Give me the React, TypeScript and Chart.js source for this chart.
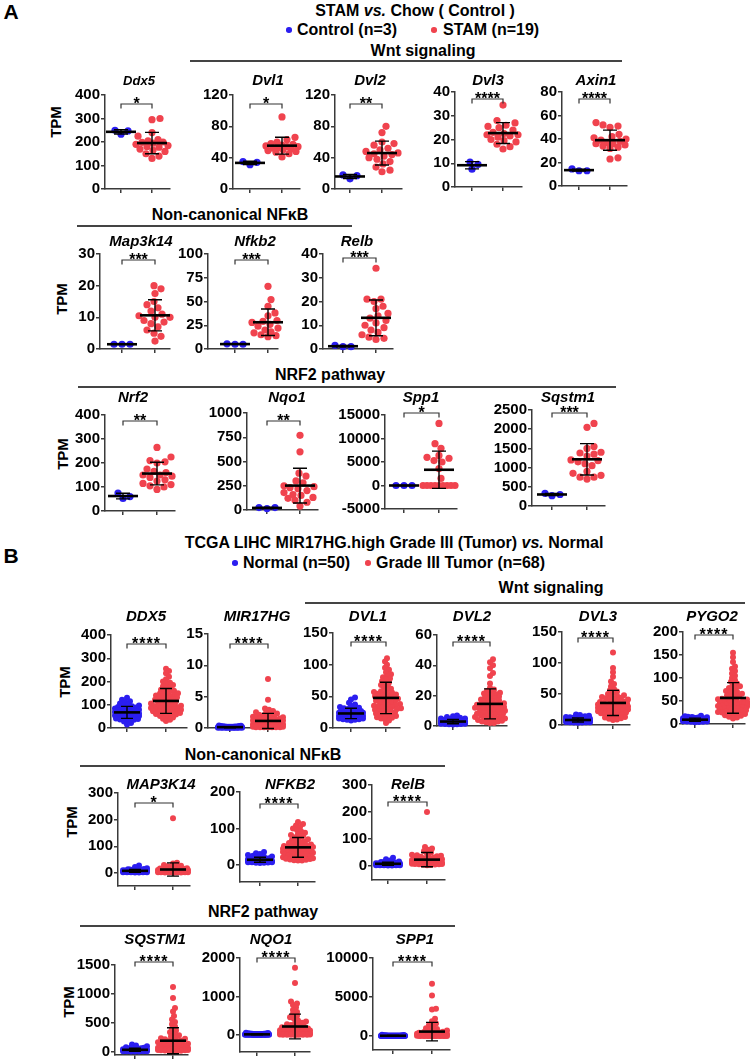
import React, { useEffect, useRef } from 'react';
import { Chart, registerables } from 'chart.js';
Chart.register(...registerables);

const FONT = '"Liberation Sans", Arial, Helvetica, sans-serif';
const BLUE = '#2b1ef0';
const RED = '#f0434e';
const AXIS = '#3a3a3a';

// ---------------- Panel A data (STAM vs Chow) ----------------
const ddx5Ctrl = [250, 233, 247];
const ddx5Stam = [300, 295, 240, 225, 210, 205, 200, 198, 195, 190, 185, 180, 178, 170, 165, 160, 150, 140, 130];
const dvl1Ctrl = [31, 34, 35];
const dvl1Stam = [92, 66, 63, 60, 58, 57, 56, 55, 54, 54, 53, 52, 51, 50, 49, 48, 47, 45, 41];
const dvl2Ctrl = [18, 17, 13];
const dvl2Stam = [80, 72, 60, 58, 56, 52, 50, 48, 46, 45, 44, 42, 40, 38, 35, 32, 28, 24, 22];
const dvl3Ctrl = [10.5, 9.5, 7.5];
const dvl3Stam = [34.5, 28, 27, 26, 25.5, 25, 24, 23, 22.5, 22, 22, 21.5, 21, 20, 19.5, 19, 18, 17, 16];
const axin1Ctrl = [13, 14.5, 13];
const axin1Stam = [54, 52, 51, 50, 44, 42, 41, 40, 39, 38, 37, 36, 36, 35, 34, 33, 32, 24, 23];
const map3k14Ctrl = [1.5, 1.5, 1.5];
const map3k14Stam = [20, 19, 17.5, 15, 14, 13, 12, 11, 10.5, 10, 10, 9, 8.5, 8, 7, 6, 5, 4, 2.5];
const nfkb2Ctrl = [5, 5, 5.5];
const nfkb2Stam = [66, 52, 45, 38, 35, 30, 29, 28, 27, 26, 24, 22, 20, 18, 17, 16, 15, 14, 13];
const relbCtrl = [1, 1.5, 1];
const relbStam = [34, 21, 21, 20, 18, 17, 15, 14, 13, 12, 11, 10, 9, 8, 7, 6, 5, 4.5, 4];
const nrf2Ctrl = [75, 60, 52];
const nrf2Stam = [265, 225, 210, 205, 200, 175, 165, 160, 150, 150, 145, 140, 130, 125, 115, 110, 105, 100, 90];
const nqo1Ctrl = [15, 25, 25];
const nqo1Stam = [770, 600, 380, 350, 300, 280, 250, 240, 230, 220, 200, 180, 160, 150, 130, 120, 100, 80, 40];
const spp1Ctrl = [0, 0, 0];
const spp1Stam = [13200, 8900, 7900, 6400, 6000, 5800, 5300, 5000, 3600, 1500, 0, 0, 0, 0, 0, 0, 0, 0, 0];
const sqstm1Ctrl = [270, 330, 300];
const sqstm1Stam = [2150, 2050, 1550, 1500, 1400, 1380, 1350, 1300, 1200, 1180, 1150, 1100, 1050, 900, 850, 800, 750, 750, 700];

// ---------------- Panel B data (TCGA LIHC) ----------------
const DDX5N = [130, 122, 115, 110, 105, 100, 97, 94, 92, 90, 88, 86, 84, 82, 80, 78, 76, 75, 73, 72, 70, 69, 68, 66, 65, 64, 63, 62, 60, 59, 58, 57, 56, 55, 54, 52, 51, 50, 48, 47, 45, 43, 41, 39, 37, 35, 32, 28, 22, 15];
const DDX5T = [255, 245, 235, 220, 210, 200, 195, 190, 185, 180, 175, 170, 165, 160, 158, 155, 150, 148, 145, 142, 140, 138, 135, 132, 130, 128, 125, 122, 120, 118, 115, 112, 110, 108, 105, 102, 100, 98, 96, 95, 93, 92, 90, 88, 86, 85, 83, 82, 80, 78, 76, 75, 73, 72, 70, 68, 66, 64, 62, 60, 58, 55, 52, 50, 45, 40, 35, 30];
const MIR17HGN = [0.4, 0.35, 0.3, 0.3, 0.28, 0.25, 0.25, 0.22, 0.2, 0.2, 0.2, 0.18, 0.18, 0.17, 0.16, 0.15, 0.15, 0.15, 0.14, 0.14, 0.13, 0.13, 0.12, 0.12, 0.12, 0.11, 0.11, 0.1, 0.1, 0.1, 0.1, 0.09, 0.09, 0.09, 0.08, 0.08, 0.08, 0.07, 0.07, 0.07, 0.06, 0.06, 0.06, 0.05, 0.05, 0.05, 0.04, 0.04, 0.03, 0.02];
const MIR17HGT = [7.8, 4.5, 3.1, 2.9, 2.7, 2.5, 2.4, 2.3, 2.2, 2.1, 2.0, 1.9, 1.8, 1.8, 1.7, 1.6, 1.6, 1.5, 1.5, 1.4, 1.4, 1.3, 1.3, 1.2, 1.2, 1.1, 1.1, 1.0, 1.0, 1.0, 0.9, 0.9, 0.9, 0.8, 0.8, 0.8, 0.7, 0.7, 0.7, 0.6, 0.6, 0.6, 0.5, 0.5, 0.5, 0.5, 0.4, 0.4, 0.4, 0.4, 0.3, 0.3, 0.3, 0.3, 0.3, 0.2, 0.2, 0.2, 0.2, 0.2, 0.2, 0.1, 0.1, 0.1, 0.1, 0.1, 0.1, 0.1];
const DVL1N = [48, 45, 40, 37, 35, 33, 32, 31, 30, 29, 28, 27, 27, 26, 26, 25, 25, 24, 24, 23, 23, 22, 22, 22, 21, 21, 21, 20, 20, 20, 19, 19, 19, 18, 18, 18, 17, 17, 17, 16, 16, 16, 15, 15, 15, 14, 14, 13, 13, 12];
const DVL1T = [110, 105, 100, 95, 92, 88, 85, 82, 80, 78, 76, 74, 72, 70, 68, 66, 64, 62, 60, 58, 57, 56, 55, 54, 53, 52, 51, 50, 49, 48, 47, 46, 45, 44, 43, 42, 41, 40, 39, 38, 37, 36, 35, 35, 34, 33, 32, 31, 30, 30, 29, 28, 27, 26, 25, 24, 23, 22, 21, 20, 19, 18, 17, 16, 15, 14, 12, 8];
const DVL2N = [7, 6.5, 6, 5.5, 5, 5, 4.5, 4.5, 4, 4, 4, 3.8, 3.6, 3.5, 3.4, 3.3, 3.2, 3.1, 3, 3, 2.9, 2.8, 2.8, 2.7, 2.6, 2.6, 2.5, 2.5, 2.4, 2.4, 2.3, 2.3, 2.2, 2.2, 2.1, 2, 2, 1.9, 1.9, 1.8, 1.8, 1.7, 1.6, 1.5, 1.5, 1.4, 1.3, 1.2, 1.1, 1];
const DVL2T = [44, 42, 40, 38, 35, 33, 28, 25, 24, 23, 22.5, 22, 21.5, 21, 20.5, 20, 19.5, 19, 18.5, 18, 17.5, 17, 16.5, 16, 15.5, 15, 15, 14.5, 14, 14, 13.5, 13, 13, 12.5, 12, 12, 11.5, 11, 11, 10.5, 10, 10, 9.5, 9, 9, 8.5, 8, 8, 7.5, 7, 7, 6.5, 6, 6, 5.5, 5, 5, 4.5, 4, 4, 3.5, 3, 3, 2.5, 2, 2, 12, 14];
const DVL3N = [17, 16, 15, 14, 13, 12.5, 12, 11.5, 11, 10.5, 10, 10, 9.5, 9.5, 9, 9, 9, 8.5, 8.5, 8.5, 8, 8, 8, 7.5, 7.5, 7.5, 7, 7, 7, 7, 6.5, 6.5, 6.5, 6, 6, 6, 6, 5.5, 5.5, 5.5, 5, 5, 5, 4.8, 4.6, 4.5, 4.4, 4.2, 4, 3.8];
const DVL3T = [117, 92, 85, 78, 70, 66, 62, 58, 56, 54, 52, 50, 48, 47, 46, 45, 44, 43, 42, 41, 40, 39, 38, 37, 36, 35, 35, 34, 34, 33, 33, 32, 32, 31, 31, 30, 30, 29, 29, 28, 28, 27, 27, 26, 26, 25, 25, 24, 24, 23, 22, 22, 21, 20, 20, 19, 18, 17, 16, 15, 14, 13, 12, 11, 10, 9, 8, 36];
const PYGO2N = [18, 17, 16, 15, 14.5, 14, 13.5, 13, 12.5, 12, 12, 11.5, 11.5, 11, 11, 10.5, 10.5, 10, 10, 10, 9.5, 9.5, 9.5, 9, 9, 9, 8.5, 8.5, 8.5, 8, 8, 8, 7.5, 7.5, 7.5, 7, 7, 7, 6.5, 6.5, 6.5, 6, 6, 6, 5.5, 5.5, 5, 5, 4.5, 4];
const PYGO2T = [155, 145, 135, 125, 120, 115, 110, 105, 100, 95, 92, 88, 85, 82, 80, 78, 75, 72, 70, 68, 66, 64, 62, 60, 58, 56, 55, 54, 53, 52, 51, 50, 49, 48, 47, 46, 45, 44, 43, 42, 41, 40, 40, 39, 38, 37, 36, 35, 34, 33, 32, 31, 30, 29, 28, 27, 26, 25, 24, 23, 22, 20, 19, 18, 16, 14, 12, 45];
const MAP3K14N = [28, 22, 18, 15, 14, 13, 12, 11, 11, 10, 10, 10, 9.5, 9, 9, 9, 8.5, 8, 8, 8, 7.5, 7.5, 7, 7, 7, 6.5, 6.5, 6, 6, 6, 5.5, 5.5, 5, 5, 5, 4.5, 4.5, 4, 4, 4, 3.5, 3.5, 3, 3, 3, 2.5, 2.5, 2, 2, 12];
const MAP3K14T = [205, 38, 35, 30, 27, 25, 22, 20, 19, 18, 17, 16, 15, 15, 14, 14, 13, 13, 12, 12, 12, 11, 11, 11, 10, 10, 10, 10, 9, 9, 9, 9, 8, 8, 8, 8, 7.5, 7.5, 7, 7, 7, 6.5, 6.5, 6, 6, 6, 5.5, 5.5, 5, 5, 5, 4.5, 4.5, 4, 4, 4, 3.5, 3.5, 3, 3, 3, 2.5, 2.5, 2, 2, 1.5, 1.5, 1];
const NFKB2N = [35, 32, 30, 27, 25, 23, 22, 21, 20, 19, 18, 17.5, 17, 16.5, 16, 15.5, 15, 15, 14.5, 14, 14, 13.5, 13, 13, 12.5, 12, 12, 11.5, 11.5, 11, 11, 10.5, 10.5, 10, 10, 9.5, 9.5, 9, 9, 8.5, 8.5, 8, 8, 7.5, 7, 7, 6.5, 6, 5.5, 5];
const NFKB2T = [118, 112, 108, 104, 100, 96, 92, 88, 85, 82, 79, 76, 73, 70, 68, 66, 64, 62, 60, 58, 56, 55, 54, 52, 51, 50, 49, 48, 47, 46, 45, 44, 43, 42, 41, 40, 39, 38, 37, 36, 35, 34, 33, 32, 31, 30, 29, 28, 27, 26, 25, 24, 23, 22, 21, 20, 19, 18, 17, 16, 15, 14, 13, 12, 12, 30, 40, 50];
const RELBN = [30, 25, 20, 17, 15, 14, 13, 12, 11, 11, 10, 10, 9.5, 9, 9, 8.5, 8.5, 8, 8, 8, 7.5, 7.5, 7, 7, 7, 6.5, 6.5, 6, 6, 6, 5.5, 5.5, 5, 5, 5, 4.5, 4.5, 4, 4, 4, 3.5, 3.5, 3, 3, 3, 2.5, 2.5, 2, 2, 10];
const RELBT = [200, 70, 65, 60, 55, 50, 46, 42, 40, 38, 36, 34, 32, 31, 30, 29, 28, 27, 26, 25, 24, 23, 22, 22, 21, 21, 20, 20, 19, 19, 18, 18, 17, 17, 16, 16, 15, 15, 15, 14, 14, 14, 13, 13, 13, 12, 12, 12, 11, 11, 11, 10, 10, 10, 9, 9, 9, 8, 8, 8, 7, 7, 6, 6, 5, 5, 4, 3];
const SQSTM1N = [130, 115, 100, 85, 75, 70, 65, 60, 58, 55, 52, 50, 48, 46, 45, 44, 42, 40, 39, 38, 37, 36, 35, 34, 33, 32, 31, 30, 30, 29, 28, 27, 26, 25, 24, 23, 22, 21, 20, 20, 19, 18, 17, 16, 15, 14, 13, 12, 11, 10];
const SQSTM1T = [1120, 930, 760, 700, 620, 560, 520, 480, 440, 400, 370, 340, 310, 290, 270, 250, 240, 230, 220, 210, 200, 190, 180, 170, 160, 150, 145, 140, 135, 130, 125, 120, 115, 110, 105, 100, 95, 92, 90, 88, 85, 82, 80, 78, 75, 72, 70, 68, 65, 62, 60, 58, 55, 52, 50, 48, 45, 42, 40, 38, 35, 32, 30, 28, 25, 22, 20, 15];
const NQO1N = [60, 50, 45, 40, 38, 35, 33, 30, 28, 27, 26, 25, 24, 23, 22, 21, 20, 20, 19, 18, 18, 17, 16, 16, 15, 15, 14, 14, 13, 13, 12, 12, 11, 11, 10, 10, 9, 9, 8, 8, 7, 7, 6, 6, 5, 5, 4, 4, 3, 2];
const NQO1T = [1750, 1350, 870, 820, 780, 720, 650, 600, 550, 500, 460, 420, 380, 350, 320, 300, 280, 260, 240, 220, 200, 190, 180, 170, 160, 150, 140, 130, 125, 120, 115, 110, 105, 100, 95, 90, 85, 80, 75, 70, 65, 60, 55, 50, 48, 45, 42, 40, 38, 35, 32, 30, 28, 26, 24, 22, 20, 18, 16, 14, 12, 10, 9, 8, 7, 6, 5, 4];
const SPP1N = [150, 120, 100, 90, 80, 75, 70, 65, 60, 55, 50, 48, 45, 42, 40, 38, 35, 32, 30, 28, 26, 24, 22, 20, 18, 16, 15, 14, 13, 12, 11, 10, 9, 8, 8, 7, 7, 6, 6, 5, 5, 4, 4, 3, 3, 2, 2, 1, 1, 0.5];
const SPP1T = [6700, 5200, 3500, 3400, 2200, 1900, 1600, 1400, 1200, 1000, 900, 800, 700, 600, 550, 500, 450, 400, 380, 350, 320, 300, 280, 260, 240, 220, 200, 190, 180, 170, 160, 150, 140, 130, 120, 110, 100, 95, 90, 85, 80, 75, 70, 65, 60, 55, 50, 45, 40, 38, 35, 32, 30, 28, 25, 22, 20, 18, 15, 12, 10, 8, 6, 5, 4, 3, 2, 1];

// ---------------- Tick labels ----------------
const t400 = [0, 100, 200, 300, 400];
const t120 = [0, 40, 80, 120];
const t40 = [0, 10, 20, 30, 40];
const t80 = [0, 20, 40, 60, 80];
const t30 = [0, 10, 20, 30];
const t100q = [0, 25, 50, 75, 100];
const t1000q = [0, 250, 500, 750, 1000];
const tSpp1A = [-5000, 0, 5000, 10000, 15000];
const t2500 = [0, 500, 1000, 1500, 2000, 2500];
const t15 = [0, 5, 10, 15];
const t150 = [0, 50, 100, 150];
const t60 = [0, 20, 40, 60];
const t200q = [0, 50, 100, 150, 200];
const t300 = [0, 100, 200, 300];
const t200 = [0, 100, 200];
const t1500 = [0, 500, 1000, 1500];
const t2000 = [0, 1000, 2000];
const t10000 = [0, 5000, 10000];

type Spec = {
  title: string; a: number[]; b: number[]; ticks: number[]; min: number; max: number; stars: string;
  B: boolean; ax: number; top: number; bottom: number; right: number; t1: number; t2: number;
  tx: number; ty: number; br: number; ts?: number;
};

const charts: Spec[] = [
  { title: 'Ddx5', a: ddx5Ctrl, b: ddx5Stam, ticks: t400, min: 0, max: 400, stars: '*', B: false, ax: 105, top: 95, bottom: 189, right: 170, t1: 121, t2: 152, tx: 139, ty: 81, br: 9, ts: 13 },
  { title: 'Dvl1', a: dvl1Ctrl, b: dvl1Stam, ticks: t120, min: 0, max: 120, stars: '*', B: false, ax: 233, top: 95, bottom: 189, right: 300, t1: 250, t2: 282, tx: 268, ty: 81, br: 9 },
  { title: 'Dvl2', a: dvl2Ctrl, b: dvl2Stam, ticks: t120, min: 0, max: 120, stars: '**', B: false, ax: 335, top: 95, bottom: 189, right: 402, t1: 350, t2: 382, tx: 370, ty: 81, br: 9 },
  { title: 'Dvl3', a: dvl3Ctrl, b: dvl3Stam, ticks: t40, min: 0, max: 40, stars: '****', B: false, ax: 455, top: 92, bottom: 187, right: 522, t1: 472, t2: 503, tx: 488, ty: 81, br: 7 },
  { title: 'Axin1', a: axin1Ctrl, b: axin1Stam, ticks: t80, min: 0, max: 80, stars: '****', B: false, ax: 562, top: 92, bottom: 186, right: 627, t1: 579, t2: 610, tx: 596, ty: 81, br: 7 },
  { title: 'Map3k14', a: map3k14Ctrl, b: map3k14Stam, ticks: t30, min: 0, max: 30, stars: '***', B: false, ax: 100, top: 254, bottom: 349, right: 170, t1: 122, t2: 155, tx: 141, ty: 242, br: 6 },
  { title: 'Nfkb2', a: nfkb2Ctrl, b: nfkb2Stam, ticks: t100q, min: 0, max: 100, stars: '***', B: false, ax: 208, top: 254, bottom: 349, right: 278, t1: 235, t2: 268, tx: 255, ty: 242, br: 6 },
  { title: 'Relb', a: relbCtrl, b: relbStam, ticks: t40, min: 0, max: 40, stars: '***', B: false, ax: 323, top: 254, bottom: 349, right: 393, t1: 343, t2: 376, tx: 357, ty: 242, br: 4 },
  { title: 'Nrf2', a: nrf2Ctrl, b: nrf2Stam, ticks: t400, min: 0, max: 400, stars: '**', B: false, ax: 105, top: 415, bottom: 511, right: 175, t1: 123, t2: 157, tx: 133, ty: 398, br: 6 },
  { title: 'Nqo1', a: nqo1Ctrl, b: nqo1Stam, ticks: t1000q, min: 0, max: 1000, stars: '**', B: false, ax: 247, top: 413, bottom: 510, right: 318, t1: 267, t2: 300, tx: 287, ty: 398, br: 8 },
  { title: 'Spp1', a: spp1Ctrl, b: spp1Stam, ticks: tSpp1A, min: -5000, max: 15000, stars: '*', B: false, ax: 385, top: 415, bottom: 509, right: 457, t1: 404, t2: 439, tx: 421, ty: 398, br: -2 },
  { title: 'Sqstm1', a: sqstm1Ctrl, b: sqstm1Stam, ticks: t2500, min: 0, max: 2500, stars: '***', B: false, ax: 532, top: 410, bottom: 506, right: 605, t1: 552, t2: 587, tx: 568, ty: 398, br: 3 },

  { title: 'DDX5', a: DDX5N, b: DDX5T, ticks: t400, min: 0, max: 400, stars: '****', B: true, ax: 111, top: 635, bottom: 728, right: 187, t1: 127, t2: 166, tx: 146, ty: 617, br: 9 },
  { title: 'MIR17HG', a: MIR17HGN, b: MIR17HGT, ticks: t15, min: 0, max: 15, stars: '****', B: true, ax: 208, top: 634, bottom: 728, right: 283, t1: 230, t2: 268, tx: 257, ty: 617, br: 10 },
  { title: 'DVL1', a: DVL1N, b: DVL1T, ticks: t150, min: 0, max: 150, stars: '****', B: true, ax: 333, top: 633, bottom: 728, right: 400, t1: 351, t2: 386, tx: 368, ty: 617, br: 9 },
  { title: 'DVL2', a: DVL2N, b: DVL2T, ticks: t60, min: 0, max: 60, stars: '****', B: true, ax: 437, top: 635, bottom: 726, right: 507, t1: 453, t2: 490, tx: 472, ty: 617, br: 7 },
  { title: 'DVL3', a: DVL3N, b: DVL3T, ticks: t150, min: 0, max: 150, stars: '****', B: true, ax: 562, top: 632, bottom: 725, right: 630, t1: 578, t2: 613, tx: 598, ty: 617, br: 6 },
  { title: 'PYGO2', a: PYGO2N, b: PYGO2T, ticks: t200q, min: 0, max: 200, stars: '****', B: true, ax: 683, top: 632, bottom: 724, right: 745, t1: 695, t2: 733, tx: 712, ty: 617, br: 3 },
  { title: 'MAP3K14', a: MAP3K14N, b: MAP3K14T, ticks: t300, min: -49, max: 300, stars: '*', B: true, ax: 118, top: 793, bottom: 886, right: 190, t1: 135, t2: 173, tx: 161, ty: 785, br: 10 },
  { title: 'NFKB2', a: NFKB2N, b: NFKB2T, ticks: t200, min: -47, max: 200, stars: '****', B: true, ax: 240, top: 792, bottom: 882, right: 315, t1: 260, t2: 298, tx: 290, ty: 785, br: 12 },
  { title: 'RelB', a: RELBN, b: RELBT, ticks: t300, min: -52, max: 300, stars: '****', B: true, ax: 372, top: 785, bottom: 880, right: 445, t1: 388, t2: 427, tx: 408, ty: 785, br: 17 },
  { title: 'SQSTM1', a: SQSTM1N, b: SQSTM1T, ticks: t1500, min: -50, max: 1500, stars: '****', B: true, ax: 115, top: 965, bottom: 1055, right: 188, t1: 135, t2: 173, tx: 155, ty: 940, br: -3 },
  { title: 'NQO1', a: NQO1N, b: NQO1T, ticks: t2000, min: -440, max: 2000, stars: '****', B: true, ax: 240, top: 958, bottom: 1052, right: 310, t1: 257, t2: 295, tx: 271, ty: 940, br: 0 },
  { title: 'SPP1', a: SPP1N, b: SPP1T, ticks: t10000, min: -1800, max: 10000, stars: '****', B: true, ax: 373, top: 958, bottom: 1050, right: 450, t1: 393, t2: 432, tx: 415, ty: 940, br: 4 },
];

function stats(v: number[]): [number, number] {
  const n = v.length;
  const m = v.reduce((s, x) => s + x, 0) / n;
  const sd = n > 1 ? Math.sqrt(v.reduce((s, x) => s + (x - m) * (x - m), 0) / (n - 1)) : 0;
  return [m, sd];
}

// deterministic beeswarm layout: pixel offsets for each value
function swarm(vals: number[], pxPerUnit: number, r: number, maxW: number, overlap: number): number[] {
  const order = vals.map((_, i) => i).sort((p, q) => vals[p] - vals[q]);
  const placed: [number, number][] = [];
  const out: number[] = new Array(vals.length).fill(0);
  const d = 2 * r * overlap;
  for (const i of order) {
    const y = vals[i] * pxPerUnit;
    const near = placed.filter((p) => Math.abs(p[1] - y) < d);
    let bestX = 0;
    let bestD = -1;
    for (let k = 0; k <= 2 * maxW; k++) {
      const cx = k === 0 ? 0 : (k % 2 ? 1 : -1) * Math.ceil(k / 2);
      let md = Infinity;
      for (const p of near) {
        const dd = Math.hypot(p[0] - cx, p[1] - y);
        if (dd < md) md = dd;
      }
      if (md >= d) { bestX = cx; bestD = md; break; }
      if (md > bestD) { bestD = md; bestX = cx; }
    }
    placed.push([bestX, y]);
    out[i] = bestX;
  }
  return out;
}

const PADL = 60;

function Plot({ s }: { s: Spec }) {
  const ref = useRef<HTMLCanvasElement | null>(null);
  const cl = s.ax - PADL;
  const ct = s.ty - 14;
  const cw = s.right - cl + 10;
  const ch = s.bottom - ct + 12;
  useEffect(() => {
    const unit = s.t2 - s.t1;
    const xmin = 1 - (s.t1 - s.ax) / unit;
    const xmax = 2 + (s.right - s.t2) / unit;
    const pyu = (s.bottom - s.top) / (s.max - s.min);
    const r = s.B ? 3 : 3.6;
    const ov = s.B ? 0.62 : 1.0;
    const offA = swarm(s.a, pyu, r, s.B ? 12 : 16, ov);
    const offB = swarm(s.b, pyu, r, s.B ? 15 : 16, ov);
    const axisGrid = { display: true, drawOnChartArea: false, drawTicks: true, tickLength: 4, color: AXIS, lineWidth: 1.5 };
    const border = { display: true, color: AXIS, width: 1.5 };
    const deco = {
      id: 'deco',
      afterDatasetsDraw(chart: any) {
        const { ctx } = chart;
        const x = chart.scales.x;
        const y = chart.scales.y;
        const mw = s.B ? 13 : 15;
        const cwid = s.B ? 6 : 7;
        [s.a, s.b].forEach((vals, gi) => {
          const [m, sd] = stats(vals);
          const cx = x.getPixelForValue(gi + 1);
          const ym = y.getPixelForValue(m);
          const yt = y.getPixelForValue(m + sd);
          const yb = y.getPixelForValue(m - sd);
          ctx.save();
          ctx.strokeStyle = '#000';
          ctx.lineWidth = 1.4;
          ctx.beginPath();
          ctx.moveTo(cx, yt); ctx.lineTo(cx, yb);
          ctx.moveTo(cx - cwid, yt); ctx.lineTo(cx + cwid, yt);
          ctx.moveTo(cx - cwid, yb); ctx.lineTo(cx + cwid, yb);
          ctx.stroke();
          ctx.lineWidth = 2.6;
          ctx.beginPath();
          ctx.moveTo(cx - mw, ym); ctx.lineTo(cx + mw, ym);
          ctx.stroke();
          ctx.restore();
        });
      },
      afterDraw(chart: any) {
        const { ctx, chartArea } = chart;
        const x = chart.scales.x;
        ctx.save();
        ctx.fillStyle = '#000';
        ctx.textAlign = 'center';
        ctx.textBaseline = 'middle';
        ctx.font = `italic bold ${s.ts || 15}px ${FONT}`;
        ctx.fillText(s.title, s.tx - cl, s.ty - ct);
        const by = chartArea.top + s.br;
        const x1 = x.getPixelForValue(1);
        const x2 = x.getPixelForValue(2);
        ctx.strokeStyle = '#333';
        ctx.lineWidth = 1.2;
        ctx.beginPath();
        ctx.moveTo(x1, by + 4.5); ctx.lineTo(x1, by); ctx.lineTo(x2, by); ctx.lineTo(x2, by + 4.5);
        ctx.stroke();
        ctx.font = `bold 16px ${FONT}`;
        ctx.textBaseline = 'alphabetic';
        if (s.B) (ctx as any).letterSpacing = '1px';
        ctx.fillText(s.stars, (x1 + x2) / 2, by + 5);
        ctx.restore();
      },
    };
    const chart = new Chart(ref.current as HTMLCanvasElement, {
      type: 'scatter',
      data: {
        datasets: [
          { data: s.a.map((v, i) => ({ x: 1 + offA[i] / unit, y: v })), pointRadius: r, pointBackgroundColor: BLUE, pointBorderWidth: 0, clip: false } as any,
          { data: s.b.map((v, i) => ({ x: 2 + offB[i] / unit, y: v })), pointRadius: r, pointBackgroundColor: RED, pointBorderWidth: 0, clip: false } as any,
        ],
      },
      options: {
        responsive: false,
        animation: false,
        devicePixelRatio: 1,
        events: [],
        layout: { padding: { top: s.top - ct, right: cw - (s.right - cl), left: 0, bottom: 0 } },
        plugins: { legend: { display: false }, tooltip: { enabled: false } },
        scales: {
          x: {
            type: 'linear', min: xmin, max: xmax,
            afterBuildTicks: (sc: any) => { sc.ticks = [{ value: 1 }, { value: 2 }]; },
            afterFit: (sc: any) => { sc.height = ch - (s.bottom - ct); },
            ticks: { display: false },
            grid: axisGrid, border,
          },
          y: {
            type: 'linear', min: s.min, max: s.max,
            afterBuildTicks: (sc: any) => { sc.ticks = s.ticks.map((v) => ({ value: v })); },
            afterFit: (sc: any) => { sc.width = PADL; },
            ticks: { autoSkip: false, padding: 1, color: '#000', font: { family: FONT, size: 15, weight: 'bold' }, callback: (v: any) => `${v}` },
            grid: axisGrid, border,
          },
        } as any,
      },
      plugins: [deco],
    });
    return () => chart.destroy();
  }, []);
  return (
    <canvas ref={ref} width={cw} height={ch}
      style={{ position: 'absolute', left: cl, top: ct, width: cw, height: ch }} />
  );
}

function Txt({ x, y, size = 16, children, rot = false, left = false }: any) {
  return (
    <div style={{
      position: 'absolute', left: x, top: y, fontSize: size, lineHeight: 1, whiteSpace: 'nowrap',
      transform: left ? 'translateY(-50%)' : `translate(-50%,-50%)${rot ? ' rotate(-90deg)' : ''}`,
    }}>{children}</div>
  );
}

function HLine({ x1, x2, y }: { x1: number; x2: number; y: number }) {
  return <div style={{ position: 'absolute', left: x1, top: y - 0.75, width: x2 - x1, height: 1.5, background: '#444' }} />;
}

function Dot({ x, y, c }: { x: number; y: number; c: string }) {
  return <div style={{ position: 'absolute', left: x - 2.8, top: y - 2.8, width: 5.6, height: 5.6, borderRadius: '50%', background: c }} />;
}

export default function App() {
  return (
    <div style={{ position: 'absolute', left: 0, top: 0, width: 750, height: 1061, overflow: 'hidden', background: '#fff', fontFamily: FONT, fontWeight: 'bold', color: '#000' }}>
      <Txt x={11} y={11} size={21}>A</Txt>
      <Txt x={415} y={11}>STAM <i>vs.</i> Chow ( Control )</Txt>
      <Dot x={289} y={30} c={BLUE} />
      <Txt x={297} y={30} left>Control (n=3)</Txt>
      <Dot x={434} y={30} c={RED} />
      <Txt x={443} y={30} left>STAM (n=19)</Txt>
      <Txt x={423} y={51}>Wnt signaling</Txt>
      <HLine x1={190} x2={622} y={61} />
      <Txt x={230} y={215}>Non-canonical NFκB</Txt>
      <HLine x1={77} x2={352} y={226} />
      <Txt x={330} y={375}>NRF2 pathway</Txt>
      <HLine x1={78} x2={616} y={387} />
      <Txt x={55} y={122} size={15} rot>TPM</Txt>
      <Txt x={61} y={299} size={15} rot>TPM</Txt>
      <Txt x={62} y={454} size={15} rot>TPM</Txt>

      <Txt x={11} y={555} size={21}>B</Txt>
      <Txt x={394} y={543}>TCGA LIHC MIR17HG.high Grade III (Tumor) <i>vs.</i> Normal</Txt>
      <Dot x={235} y={563} c={BLUE} />
      <Txt x={243} y={563} left>Normal (n=50)</Txt>
      <Dot x={368} y={563} c={RED} />
      <Txt x={376} y={563} left>Grade III Tumor (n=68)</Txt>
      <Txt x={551} y={588}>Wnt signaling</Txt>
      <HLine x1={305} x2={745} y={603} />
      <Txt x={263} y={755}>Non-canonical NFκB</Txt>
      <HLine x1={80} x2={445} y={766} />
      <Txt x={263} y={912}>NRF2 pathway</Txt>
      <HLine x1={80} x2={455} y={926} />
      <Txt x={64} y={682} size={15} rot>TPM</Txt>
      <Txt x={71} y={822} size={15} rot>TPM</Txt>
      <Txt x={68} y={1002} size={15} rot>TPM</Txt>

      {charts.map((s) => <Plot key={s.title + s.ax} s={s} />)}
    </div>
  );
}
